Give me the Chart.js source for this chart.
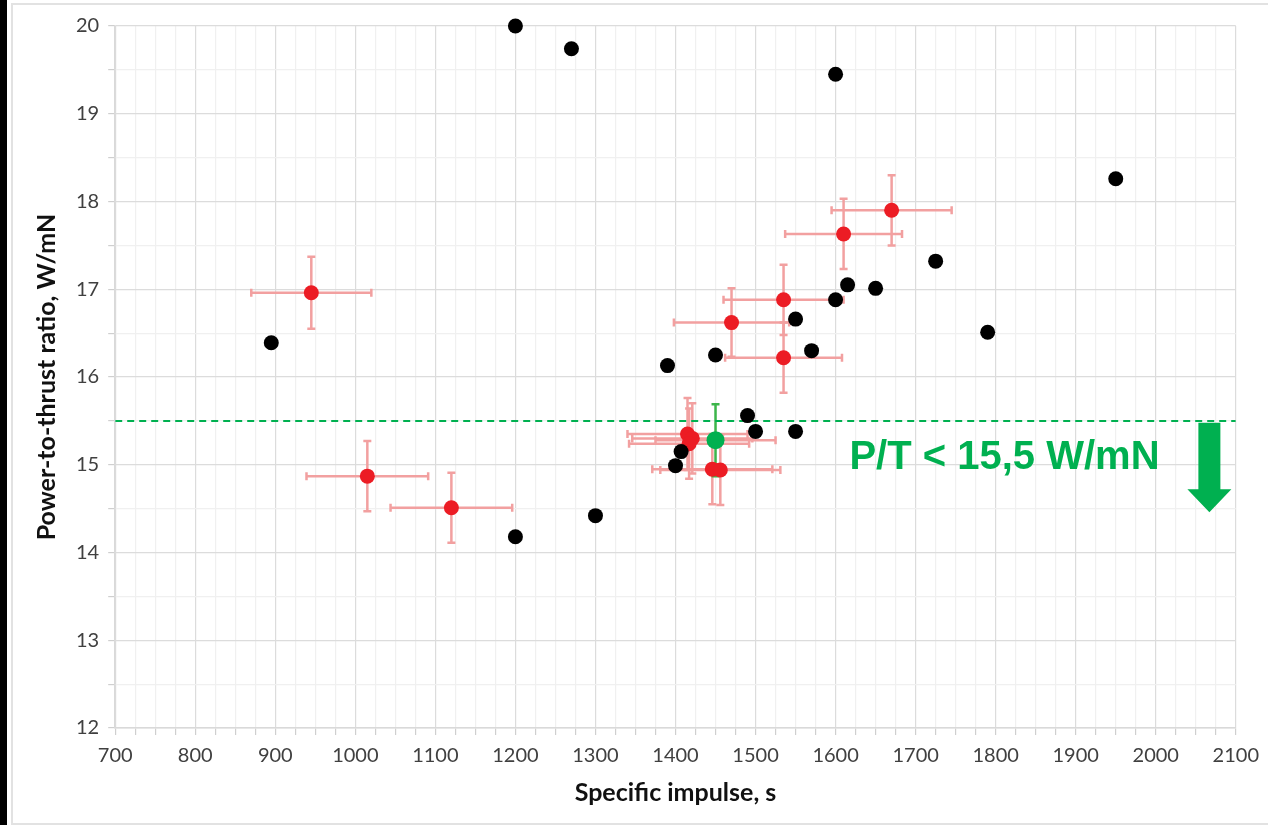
<!DOCTYPE html>
<html>
<head>
<meta charset="utf-8">
<title>Power-to-thrust ratio vs specific impulse</title>
<script src="https://cdn.jsdelivr.net/npm/chart.js@4.4.1/dist/chart.umd.min.js"></script>
<style>
	body { margin: 0; background: #fff; }
	#wrap { position: relative; width: 1268px; height: 825px; overflow: hidden; }
	#edge { position: absolute; left: 0; top: 0; width: 7px; height: 825px; background: #000; }
	#frame { position: absolute; left: 11px; top: 3px; width: 1300px; height: 818px; border: 2px solid #e2e2e2; }
	#chartBox { position: absolute; left: 0; top: 0; width: 1268px; height: 825px; }
</style>
</head>
<body>
<div id="wrap">
	<div id="edge"></div>
	<div id="frame"></div>
	<div id="chartBox"><canvas id="ptChart"></canvas></div>
</div>
<script>
// black: thrusters without error data
const blackX = [1200, 1270, 1600, 1950, 1725, 1615, 1650, 1600, 1550, 1790, 895, 1570, 1450, 1390, 1490, 1500, 1550, 1407, 1400, 1300, 1200];
const blackY = [20.0, 19.74, 19.45, 18.26, 17.32, 17.05, 17.01, 16.88, 16.66, 16.51, 16.39, 16.30, 16.25, 16.13, 15.56, 15.38, 15.38, 15.15, 14.99, 14.42, 14.18];

// red: measured points with error bars
const redX = [945, 1015, 1120, 1670, 1610, 1535, 1470, 1535, 1415, 1421, 1417, 1446, 1456];
const redY = [16.96, 14.87, 14.51, 17.90, 17.63, 16.88, 16.62, 16.22, 15.35, 15.30, 15.24, 14.95, 14.94];
const redErrX = [75, 76, 76, 75, 73, 75, 72, 73, 75, 75, 75, 75, 75];
const redErrY = [0.41, 0.40, 0.40, 0.40, 0.40, 0.40, 0.39, 0.40, 0.41, 0.40, 0.40, 0.40, 0.40];

// green: target point
const greenX = [1450];
const greenY = [15.28];
const greenErrX = [75];
const greenErrY = [0.41];

// limit
const limitValue = 15.5;
const limitText = "P/T < 15,5 W/mN";

const xMin = 700, xMax = 2100;
const yMin = 12, yMax = 20;

const GREEN = "#00b050";
const PINK = "#f2a0a0";
const tickFont = { family: "Lato", size: 20 };
const titleFont = { family: "Lato", size: 25, weight: "bold" };

function toPoints(xs, ys) {
	return xs.map((x, i) => ({ x: x, y: ys[i] }));
}

// label + arrow placement in data units
const notePos = { x: 1811, y: 15.08 };
const arrowPos = { x: 2067, top: 15.48, neck: 14.72, tip: 14.46 };

const errorBars = {
	id: "errorBars",
	beforeDatasetsDraw(chart) {
		const ctx = chart.ctx;
		const xs = chart.scales.x;
		const ys = chart.scales.y;
		const cap = 4;
		chart.data.datasets.forEach((ds) => {
			if (!ds.errX) return;
			ds.data.forEach((p, i) => {
				const cx = xs.getPixelForValue(p.x);
				const cy = ys.getPixelForValue(p.y);
				const x1 = xs.getPixelForValue(p.x - ds.errX[i]);
				const x2 = xs.getPixelForValue(p.x + ds.errX[i]);
				const y1 = ys.getPixelForValue(p.y + ds.errY[i]);
				const y2 = ys.getPixelForValue(p.y - ds.errY[i]);
				ctx.save();
				ctx.lineWidth = 2.5;
				ctx.strokeStyle = ds.errColorX;
				ctx.beginPath();
				ctx.moveTo(x1, cy); ctx.lineTo(x2, cy);
				ctx.moveTo(x1, cy - cap); ctx.lineTo(x1, cy + cap);
				ctx.moveTo(x2, cy - cap); ctx.lineTo(x2, cy + cap);
				ctx.stroke();
				ctx.strokeStyle = ds.errColorY;
				ctx.beginPath();
				ctx.moveTo(cx, y1); ctx.lineTo(cx, y2);
				ctx.moveTo(cx - cap, y1); ctx.lineTo(cx + cap, y1);
				ctx.moveTo(cx - cap, y2); ctx.lineTo(cx + cap, y2);
				ctx.stroke();
				ctx.restore();
			});
		});
	}
};

const limitNote = {
	id: "limitNote",
	afterDatasetsDraw(chart) {
		const ctx = chart.ctx;
		const xs = chart.scales.x;
		const ys = chart.scales.y;
		ctx.save();
		ctx.fillStyle = GREEN;
		ctx.font = "bold 40px 'Liberation Sans', Arial, sans-serif";
		ctx.textAlign = "center";
		ctx.textBaseline = "middle";
		ctx.fillText(limitText, xs.getPixelForValue(notePos.x), ys.getPixelForValue(notePos.y));

		const ax = xs.getPixelForValue(arrowPos.x);
		const top = ys.getPixelForValue(arrowPos.top);
		const neck = ys.getPixelForValue(arrowPos.neck);
		const tip = ys.getPixelForValue(arrowPos.tip);
		ctx.beginPath();
		ctx.moveTo(ax - 11, top);
		ctx.lineTo(ax + 11, top);
		ctx.lineTo(ax + 11, neck);
		ctx.lineTo(ax + 22, neck);
		ctx.lineTo(ax, tip);
		ctx.lineTo(ax - 22, neck);
		ctx.lineTo(ax - 11, neck);
		ctx.closePath();
		ctx.fill();
		ctx.restore();
	}
};

const chart = new Chart(document.getElementById("ptChart"), {
	type: "scatter",
	data: {
		datasets: [
			{
				label: "limit",
				data: [{ x: xMin, y: limitValue }, { x: xMax, y: limitValue }],
				showLine: true,
				borderColor: GREEN,
				borderWidth: 2,
				borderDash: [7, 5],
				pointRadius: 0,
				order: 4
			},
			{
				label: "black",
				data: toPoints(blackX, blackY),
				backgroundColor: "#000",
				borderColor: "#000",
				borderWidth: 0,
				pointRadius: 7.5,
				clip: false,
				order: 1
			},
			{
				label: "red",
				data: toPoints(redX, redY),
				errX: redErrX,
				errY: redErrY,
				errColorX: PINK,
				errColorY: PINK,
				backgroundColor: "#ec1c24",
				borderColor: "#ec1c24",
				borderWidth: 0,
				pointRadius: 7.5,
				order: 2
			},
			{
				label: "green",
				data: toPoints(greenX, greenY),
				errX: greenErrX,
				errY: greenErrY,
				errColorX: PINK,
				errColorY: "#3cb54a",
				backgroundColor: GREEN,
				borderColor: GREEN,
				borderWidth: 0,
				pointRadius: 9,
				order: 3
			}
		]
	},
	options: {
		responsive: true,
		maintainAspectRatio: false,
		animation: false,
		layout: { padding: { left: 32, right: 31, top: 26, bottom: 17 } },
		plugins: {
			legend: { display: false },
			tooltip: { enabled: false }
		},
		scales: {
			x: {
				min: xMin,
				max: xMax,
				border: { color: "#d9d9d9", width: 1.5 },
				grid: {
					color: (c) => (c.tick && c.tick.value % 100 === 0 ? "#dcdcdc" : "#f0f0f0"),
					tickColor: "#cfcfcf",
					tickLength: 7,
					lineWidth: 1.2
				},
				ticks: {
					stepSize: 25,
					autoSkip: false,
					maxRotation: 0,
					padding: 9,
					color: "#404040",
					font: tickFont,
					callback: (v) => (v % 100 === 0 ? v : "")
				},
				title: {
					display: true,
					text: "Specific impulse, s",
					color: "#111",
					font: titleFont,
					padding: { top: 1, bottom: 0 }
				}
			},
			y: {
				min: yMin,
				max: yMax,
				border: { color: "#d9d9d9", width: 1.5 },
				grid: {
					color: (c) => (c.tick && c.tick.value % 1 === 0 ? "#dcdcdc" : "#f0f0f0"),
					tickColor: "#cfcfcf",
					tickLength: 7,
					lineWidth: 1.2
				},
				ticks: {
					stepSize: 0.5,
					autoSkip: false,
					padding: 9,
					color: "#404040",
					font: tickFont,
					callback: (v) => (v % 1 === 0 ? v : "")
				},
				title: {
					display: true,
					text: "Power-to-thrust ratio, W/mN",
					color: "#111",
					font: titleFont,
					padding: { top: 0, bottom: 5 }
				}
			}
		}
	},
	plugins: [errorBars, limitNote]
});
</script>
</body>
</html>
